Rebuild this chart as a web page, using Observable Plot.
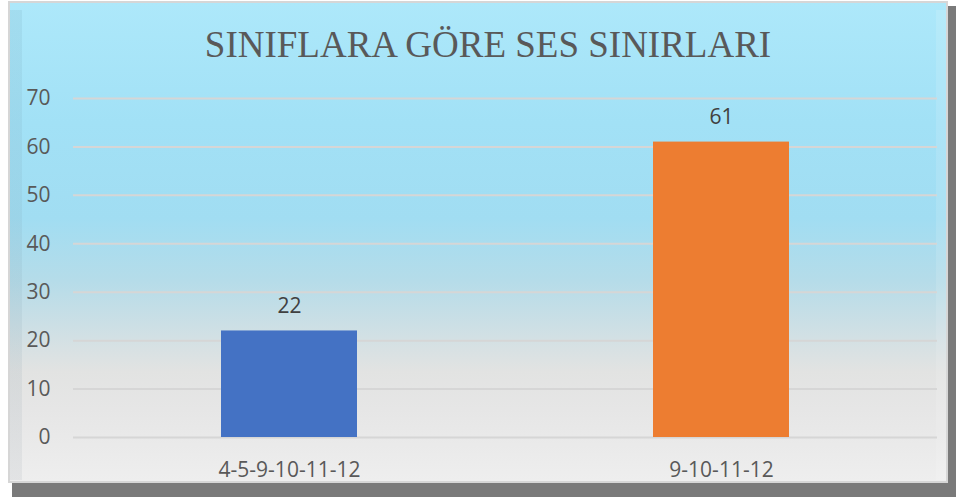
<!DOCTYPE html>
<html>
<head>
<meta charset="utf-8">
<script src="https://cdn.jsdelivr.net/npm/d3@7"></script>
<script src="https://cdn.jsdelivr.net/npm/@observablehq/plot@0.6"></script>
<style>
  html, body { margin: 0; padding: 0; background: #ffffff; }
  #page { position: relative; width: 958px; height: 501px; overflow: hidden; background: #ffffff; }
  #shadow { position: absolute; left: 12px; top: 6px; width: 944px; height: 491px; background: #7a7a7a; }
  #frame { position: absolute; left: 8px; top: 1px; width: 940px; height: 482px; border: 2px solid #d6d6d6; box-sizing: border-box;
    background: linear-gradient(to bottom, #ade8fa 0%, #a2e1f6 25%, #a1ddf2 45%, #b5dce9 58%, #d2e0e4 70%, #e2e3e2 77%, #e6e6e6 85%, #eeeeee 100%); }
  #bevelL { position: absolute; left: 10px; top: 10px; width: 12px; height: 470px;
    background: linear-gradient(to bottom, rgba(120,170,190,0.18), rgba(140,150,160,0.12)); }
  #bevelR { position: absolute; left: 936px; top: 10px; width: 10px; height: 470px;
    background: rgba(255,255,255,0.12); }
  #title { position: absolute; left: 0; top: 23px; width: 976px; text-align: center;
    font-family: "Liberation Serif", "DejaVu Serif", serif; font-size: 37px; color: #595959; }
  #chart { position: absolute; left: 0; top: 0; }
</style>
</head>
<body>
<div id="page">
  <div id="shadow"></div>
  <div id="frame"></div>
  <div id="bevelL"></div>
  <div id="bevelR"></div>
  <div id="title">SINIFLARA GÖRE SES SINIRLARI</div>
  <div id="chart"></div>
</div>
<script>
const categories = ["4-5-9-10-11-12", "9-10-11-12"];
const values = [22, 61];
const barColors = ["#4472c4", "#ed7d31"];
const yTicks = [0, 10, 20, 30, 40, 50, 60, 70];

const data = categories.map((c, i) => ({category: c, value: values[i], color: barColors[i]}));

const chart = Plot.plot({
  width: 958,
  height: 501,
  marginLeft: 73,
  marginRight: 21,
  marginTop: 98,
  marginBottom: 64,
  style: { background: "transparent", fontFamily: "'Open Sans', 'Noto Sans', sans-serif", fontSize: "21px", color: "#595959", overflow: "visible" },
  x: { domain: categories, paddingInner: 0.685, paddingOuter: 0.3425, label: null },
  y: { domain: [0, 70], ticks: yTicks, label: null },
  marks: [
    Plot.ruleY(yTicks, { stroke: "#d6d6d6", strokeWidth: 2 }),
    Plot.barY(data, { x: "category", y: "value", fill: "color" }),
    Plot.text(data, { x: "category", y: "value", text: d => String(d.value), dy: -25, fill: "#404040", fontSize: 21, lineAnchor: "middle" }),
    Plot.axisY({ ticks: yTicks, tickSize: 0, tickPadding: 23, fontSize: 21, fill: "#595959", label: null }),
    Plot.axisX({ tickSize: 0, tickPadding: 25, fontSize: 21, fill: "#595959", label: null })
  ]
});
document.getElementById("chart").appendChild(chart);
</script>
</body>
</html>
